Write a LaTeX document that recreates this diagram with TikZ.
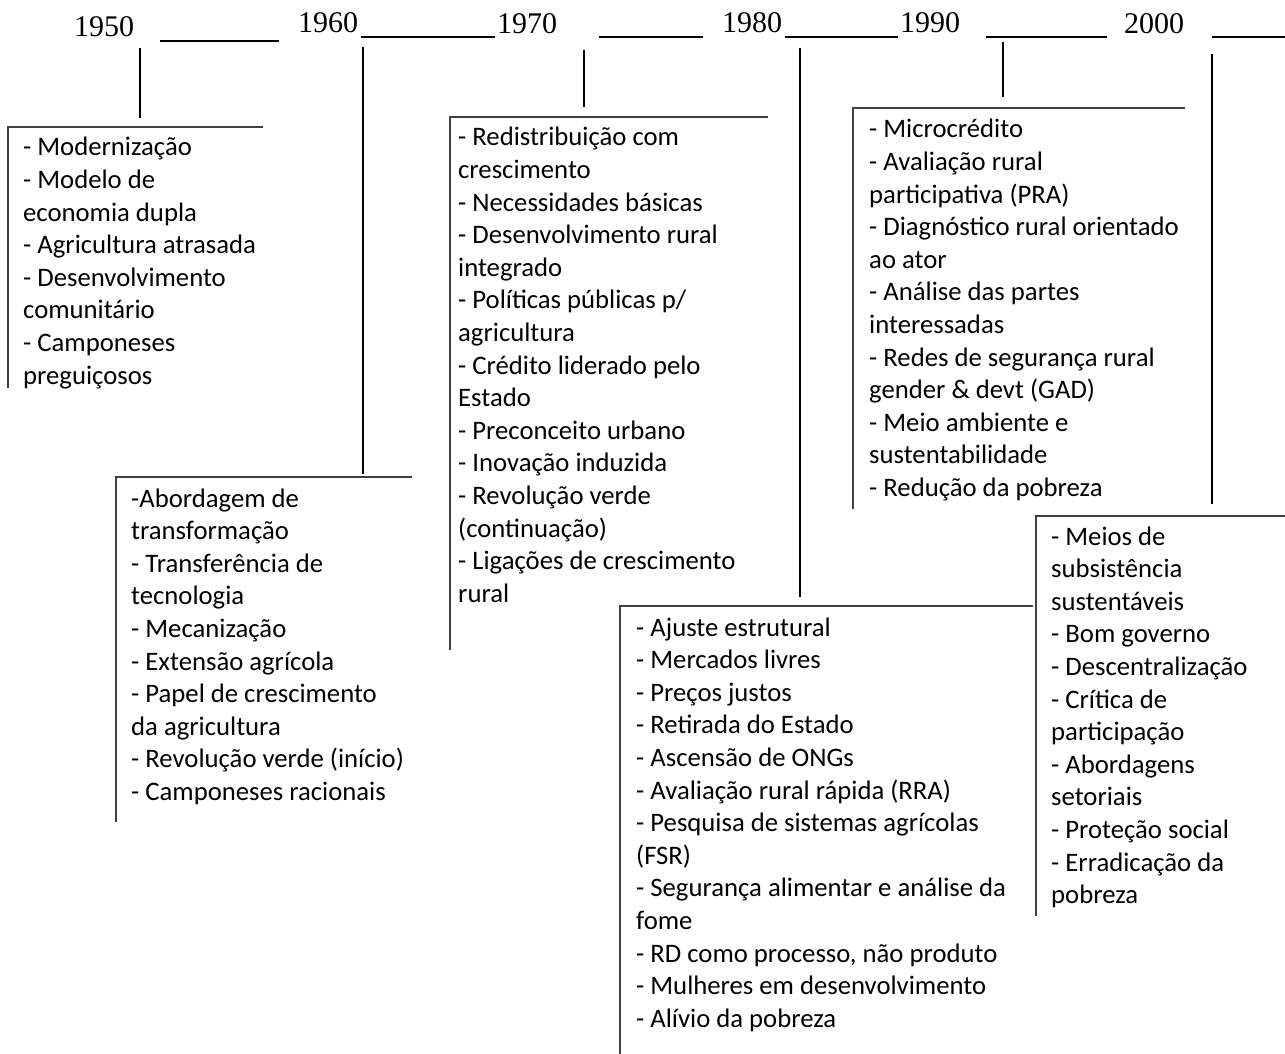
\documentclass[tikz,border=0pt]{standalone}
\usepackage{fontspec}
\setmainfont{Carlito}
\newfontfamily\yearfont{Liberation Serif}
\usepackage{tikz}

\begin{document}
\begin{tikzpicture}[x=1pt, y=-1pt,
    yearlbl/.style={anchor=base west, inner sep=0pt, font=\yearfont\fontsize{30}{36}\selectfont},
    itemlist/.style={anchor=base west, inner sep=0pt, align=flush left, text width=420pt, font=\fontsize{26.7}{32.6}\selectfont},
    blank/.style={line width=2.5pt},
    stem/.style={line width=2pt},
    frame/.style={line width=1.5pt, black!75}]
    \useasboundingbox (0, 0) rectangle (1285, 1054);

    % decades along the top
    \node [yearlbl] (y50) at (74, 37) {1950};
    \node [yearlbl] (y60) at (298, 33) {1960};
    \node [yearlbl] (y70) at (497, 34) {1970};
    \node [yearlbl] (y80) at (722, 33) {1980};
    \node [yearlbl] (y90) at (900, 33) {1990};
    \node [yearlbl] (y00) at (1124, 34) {2000};

    \coordinate (u1a) at (160, 41);  \coordinate (u1b) at (279, 41);
    \coordinate (u2a) at (361, 37);  \coordinate (u2b) at (495, 37);
    \coordinate (u3a) at (599, 37);  \coordinate (u3b) at (703, 37);
    \coordinate (u4a) at (785, 37);  \coordinate (u4b) at (898, 37);
    \coordinate (u5a) at (986, 37);  \coordinate (u5b) at (1107, 37);
    \coordinate (u6a) at (1212, 37); \coordinate (u6b) at (1285, 37);
    \foreach \i in {1,...,6}
        \draw [blank] (u\i a) -- (u\i b);

    % stems
    \coordinate (s50) at (140, 48);  \coordinate (e50) at (140, 118);
    \coordinate (s60) at (363, 47);  \coordinate (e60) at (363, 474);
    \coordinate (s70) at (584, 50);  \coordinate (e70) at (584, 107);
    \coordinate (s80) at (800, 48);  \coordinate (e80) at (800, 597);
    \coordinate (s90) at (1003, 42); \coordinate (e90) at (1003, 97);
    \coordinate (s00) at (1212, 54); \coordinate (e00) at (1212, 504);
    \foreach \d in {50,60,70,80,90,00}
        \draw [stem] (s\d) -- (e\d);

    % open boxes: top edge and left edge
    \draw [frame] (263, 127) -- (8, 127) -- (8, 388);
    \draw [frame] (412, 477) -- (116, 477) -- (116, 822);
    \draw [frame] (768, 117) -- (450, 117) -- (450, 650);
    \draw [frame] (1033, 606) -- (620, 606) -- (620, 1054);
    \draw [frame] (1185, 108) -- (853, 108) -- (853, 509);
    \draw [frame] (1285, 516) -- (1036, 516) -- (1036, 916);

    \node [itemlist] (l50) at (23, 156) {- Modernização\\- Modelo de\\economia dupla\\- Agricultura atrasada\\- Desenvolvimento\\comunitário\\- Camponeses\\preguiçosos};
    \node [itemlist] (l60) at (131, 507) {-Abordagem de\\transformação\\- Transferência de\\tecnologia\\- Mecanização\\- Extensão agrícola\\- Papel de crescimento\\da agricultura\\- Revolução verde (início)\\- Camponeses racionais};
    \node [itemlist] (l70) at (458, 146) {- Redistribuição com\\crescimento\\- Necessidades básicas\\- Desenvolvimento rural\\integrado\\- Políticas públicas p/\\agricultura\\- Crédito liderado pelo\\Estado\\- Preconceito urbano\\- Inovação induzida\\- Revolução verde\\(continuação)\\- Ligações de crescimento\\rural};
    \node [itemlist] (l80) at (636, 636) {- Ajuste estrutural\\- Mercados livres\\- Preços justos\\- Retirada do Estado\\- Ascensão de ONGs\\- Avaliação rural rápida (RRA)\\- Pesquisa de sistemas agrícolas\\(FSR)\\- Segurança alimentar e análise da\\fome\\- RD como processo, não produto\\- Mulheres em desenvolvimento\\- Alívio da pobreza};
    \node [itemlist] (l90) at (869, 138) {- Microcrédito\\- Avaliação rural\\participativa (PRA)\\- Diagnóstico rural orientado\\ao ator\\- Análise das partes\\interessadas\\- Redes de segurança rural\\gender \& devt (GAD)\\- Meio ambiente e\\sustentabilidade\\- Redução da pobreza};
    \node [itemlist] (l00) at (1051, 545) {- Meios de\\subsistência\\sustentáveis\\- Bom governo\\- Descentralização\\- Crítica de\\participação\\- Abordagens\\setoriais\\- Proteção social\\- Erradicação da\\pobreza};
\end{tikzpicture}
\end{document}
